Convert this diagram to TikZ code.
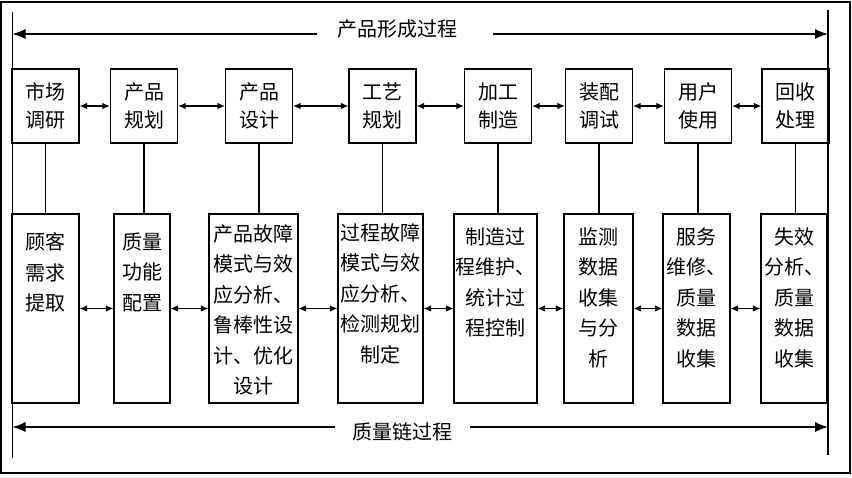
\documentclass[tikz,border=0pt]{standalone}
\usepackage{fontspec}
\setmainfont{Noto Sans CJK SC}
\usetikzlibrary{arrows.meta}

\begin{document}
\begin{tikzpicture}[x=1pt, y=-1pt,
  stage/.style={draw, line width=1.2pt, minimum width=67pt, minimum height=74pt,
    inner sep=0pt, align=center, font=\fontsize{20}{28}\selectfont},
  task/.style={draw, line width=1.2pt, minimum height=189pt, inner sep=0pt},
  tasktext/.style={anchor=north, inner sep=0pt, align=center,
    font=\fontsize{20}{30.5}\selectfont},
  link/.style={line width=1.1pt, {Latex[length=7.5pt,width=6.5pt]}-{Latex[length=7.5pt,width=6.5pt]}},
  span/.style={line width=1.1pt, -{Latex[length=13pt,width=10pt]}},
  title/.style={inner sep=0pt, font=\fontsize{20}{24}\selectfont}]
\useasboundingbox (0,0) rectangle (852,477);

% Marco exterior
\draw[line width=1.2pt] (1,2) rectangle (850,473);

% Etapas del proceso de formación del producto
\node[stage] (p1) at (45.5,106) {市场\\调研};
\node[stage] (p2) at (144,106) {产品\\规划};
\node[stage] (p3) at (259,106) {产品\\设计};
\node[stage] (p4) at (382.5,106) {工艺\\规划};
\node[stage] (p5) at (498,106) {加工\\制造};
\node[stage] (p6) at (599,106) {装配\\调试};
\node[stage] (p7) at (698,106) {用户\\使用};
\node[stage] (p8) at (795.5,106) {回收\\处理};

% Tareas de la cadena de calidad
\node[task, minimum width=67pt] (q1) at (45.5,308.5) {};
\node[task, minimum width=56pt] (q2) at (142,308.5) {};
\node[task, minimum width=89pt] (q3) at (253.5,308.5) {};
\node[task, minimum width=85pt] (q4) at (380.5,308.5) {};
\node[task, minimum width=83pt] (q5) at (495.5,308.5) {};
\node[task, minimum width=69pt] (q6) at (598.5,308.5) {};
\node[task, minimum width=67pt] (q7) at (696.5,308.5) {};
\node[task, minimum width=66pt] (q8) at (794,308.5) {};

\node[tasktext] (c1) at ([yshift=-19pt]q1.north) {顾客\\需求\\提取};
\node[tasktext] (c2) at ([yshift=-19pt]q2.north) {质量\\功能\\配置};
\node[tasktext] (c3) at ([yshift=-11pt]q3.north) {产品故障\\模式与效\\应分析、\\鲁棒性设\\计、优化\\设计};
\node[tasktext] (c4) at ([yshift=-10pt]q4.north) {过程故障\\模式与效\\应分析、\\检测规划\\制定};
\node[tasktext] (c5) at ([yshift=-14pt]q5.north) {制造过\\程维护、\\统计过\\程控制};
\node[tasktext] (c6) at ([yshift=-14pt]q6.north) {监测\\数据\\收集\\与分\\析};
\node[tasktext] (c7) at ([yshift=-14pt]q7.north) {服务\\维修、\\质量\\数据\\收集};
\node[tasktext] (c8) at ([yshift=-14pt]q8.north) {失效\\分析、\\质量\\数据\\收集};

% Flechas entre etapas
\draw[link] (p1.east) -- (p2.west);
\draw[link] (p2.east) -- (p3.west);
\draw[link] (p3.east) -- (p4.west);
\draw[link] (p4.east) -- (p5.west);
\draw[link] (p5.east) -- (p6.west);
\draw[link] (p6.east) -- (p7.west);
\draw[link] (p7.east) -- (p8.west);

\draw[link] (q1.east) -- (q2.west);
\draw[link] (q2.east) -- (q3.west);
\draw[link] (q3.east) -- (q4.west);
\draw[link] (q4.east) -- (q5.west);
\draw[link] (q5.east) -- (q6.west);
\draw[link] (q6.east) -- (q7.west);
\draw[link] (q7.east) -- (q8.west);

% Uniones verticales
\draw[line width=1.1pt] (p1.south) -- (p1.south |- q1.north);
\draw[line width=1.1pt] (p2.south) -- (p2.south |- q2.north);
\draw[line width=1.1pt] (p3.south) -- (p3.south |- q3.north);
\draw[line width=1.1pt] (p4.south) -- (p4.south |- q4.north);
\draw[line width=1.1pt] (p5.south) -- (p5.south |- q5.north);
\draw[line width=1.1pt] (p6.south) -- (p6.south |- q6.north);
\draw[line width=1.1pt] (p7.south) -- (p7.south |- q7.north);
\draw[line width=1.1pt] (p8.south) -- (p8.south |- q8.north);

% Bordes izquierdo y derecho
\coordinate (lt) at (12.5,12);
\coordinate (lb) at (12.5,458);
\coordinate (rt) at (828,10);
\coordinate (rb) at (828,455);
\draw[line width=1.1pt] (lt) -- (lb);
\draw[line width=1.1pt] (rt) -- (rb);

% Proceso de formación del producto
\node[title] (top) at (397,29) {产品形成过程};
\coordinate (ta) at (317,34);
\coordinate (tb) at (493,34);
\draw[span] (ta) -- (ta -| lt);
\draw[span] (tb) -- (tb -| rt);

% Proceso de la cadena de calidad
\node[title] (bot) at (402,432) {质量链过程};
\coordinate (ba) at (335,427);
\coordinate (bb) at (470,427);
\draw[span] (ba) -- (ba -| lb);
\draw[span] (bb) -- (bb -| rb);

\end{tikzpicture}
\end{document}
